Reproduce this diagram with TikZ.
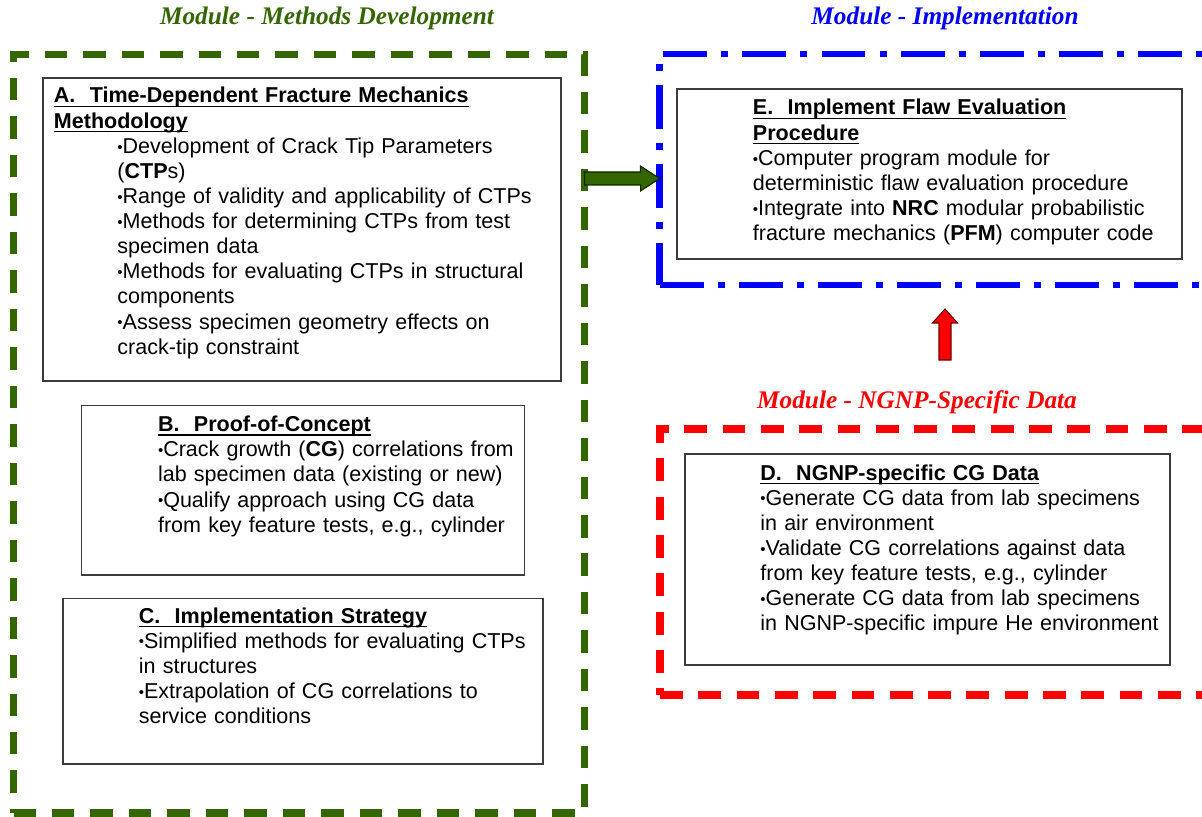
\documentclass[tikz,border=0pt]{standalone}
\usepackage{fontspec}
\setmainfont{Liberation Sans}
\newfontfamily\modfont{Liberation Serif}
\usetikzlibrary{fit}
\definecolor{mgreen}{HTML}{336600}
\definecolor{mblue}{HTML}{0000FF}
\definecolor{mred}{HTML}{FF0000}
\definecolor{boxline}{HTML}{3C3C3C}
\newcommand\bul{\raisebox{0.1ex}{\fontsize{8.5}{8.5}\selectfont\textbullet}}
\newcommand\ttl[1]{\leavevmode\setbox0\hbox{\bfseries #1}\rlap{\rule[-2.2pt]{\wd0}{0.7pt}}\box0}
\tikzset{
  panel/.style={draw=boxline, line width=0.75pt, inner sep=0pt, outer sep=0pt},
  txt/.style={font=\fontsize{12.25}{14.3}\selectfont, text width=11cm, align=left, inner sep=0pt, anchor=base west},
  modtitle/.style={font=\modfont\bfseries\itshape\fontsize{14.4}{16}\selectfont, anchor=base},
  gframe/.style={draw=mgreen, line width=4pt, inner sep=0pt, outer sep=0pt, dash pattern=on 12.8pt off 9.1pt},
  bframe/.style={draw=mblue, line width=3.7pt, inner sep=0pt, outer sep=0pt, dash pattern=on 25pt off 8pt on 4pt off 8pt},
  rframe/.style={draw=mred, line width=4pt, inner sep=0pt, outer sep=0pt, dash pattern=on 13pt off 8.8pt},
  gblock/.style={draw=black!65!mgreen, fill=mgreen, line width=0.6pt, line join=miter},
  rblock/.style={draw=black!55!mred, fill=mred, line width=0.6pt, line join=miter}
}
\begin{document}
\begin{tikzpicture}[x=0.02cm, y=-0.02cm]
  \useasboundingbox (0,0) rectangle (1202,817);
  \clip (0,0) rectangle (1202,817);

  % module frames
  \node[gframe, fit={(13.5,54.5) (584.5,813)}] (methods) {};
  \node[bframe, fit={(659.6,54) (1240,285)}] (implem) {};
  \node[rframe, fit={(660,429) (1240,695)}] (ngnp) {};

  \node[modtitle, text=mgreen] (tMethods) at (327,25) {Module - Methods Development};
  \node[modtitle, text=mblue] (tImplem) at (945,25) {Module - Implementation};
  \node[modtitle, text=mred] (tNgnp) at (917,408) {Module - NGNP-Specific Data};

  % task boxes
  \node[panel, fit={(43,78) (561,381)}] (A) {};
  \node[panel, fit={(81.5,405.7) (524.7,575)}] (B) {};
  \node[panel, fit={(63,598.7) (543,764)}] (C) {};
  \node[panel, fit={(685,454) (1170,665)}] (D) {};
  \node[panel, fit={(677,89) (1182,259)}] (E) {};

  \node[txt] (txtA) at (53.6,103) {\ttl{A.\ \ Time-Dependent Fracture Mechanics}\\
    \ttl{Methodology}\par\leftskip=1.27cm
    \bul Development of Crack Tip Parameters\\
    (\textbf{CTP}s)\\
    \bul Range of validity and applicability of CTPs\\
    \bul Methods for determining CTPs from test\\
    specimen data\\
    \bul Methods for evaluating CTPs in structural\\
    components\\
    \bul Assess specimen geometry effects on\\
    crack-tip constraint\par};
  \node[txt] (txtB) at (157.7,431.7) {\ttl{B.\ \ Proof-of-Concept}\\
    \bul Crack growth (\textbf{CG}) correlations from\\
    lab specimen data (existing or new)\\
    \bul Qualify approach using CG data\\
    from key feature tests, e.g., cylinder};
  \node[txt] (txtC) at (138.5,623) {\ttl{C.\ \ Implementation Strategy}\\
    \bul Simplified methods for evaluating CTPs\\
    in structures\\
    \bul Extrapolation of CG correlations to\\
    service conditions};
  \node[txt] (txtD) at (760,480) {\ttl{D.\ \ NGNP-specific CG Data}\\
    \bul Generate CG data from lab specimens\\
    in air environment\\
    \bul Validate CG correlations against data\\
    from key feature tests, e.g., cylinder\\
    \bul Generate CG data from lab specimens\\
    in NGNP-specific impure He environment};
  \node[txt] (txtE) at (752.6,115) {\ttl{E.\ \ Implement Flaw Evaluation}\\
    \ttl{Procedure}\\
    \bul Computer program module for\\
    deterministic flaw evaluation procedure\\
    \bul Integrate into \textbf{NRC} modular probabilistic\\
    fracture mechanics (\textbf{PFM}) computer code};

  % block arrows between modules
  \coordinate (gTail) at (methods.east |- 0,178.5);
  \coordinate (gTip) at (implem.west |- gTail);
  \draw[gblock] (gTail) ++(0,-6.5) -- ++(56,0) -- ++(0,-6) -- (gTip)
    -- ++(-19,12.5) -- ++(0,-6) -- ++(-56,0) -- cycle;
  \coordinate (rFoot) at (945,360);
  \coordinate (rTip) at (945,309);
  \draw[rblock] (rFoot) ++(-6,0) -- ++(0,-37) -- ++(-6.5,0) -- (rTip)
    -- ++(12.5,14) -- ++(-6.5,0) -- ++(0,37) -- cycle;
\end{tikzpicture}
\end{document}
